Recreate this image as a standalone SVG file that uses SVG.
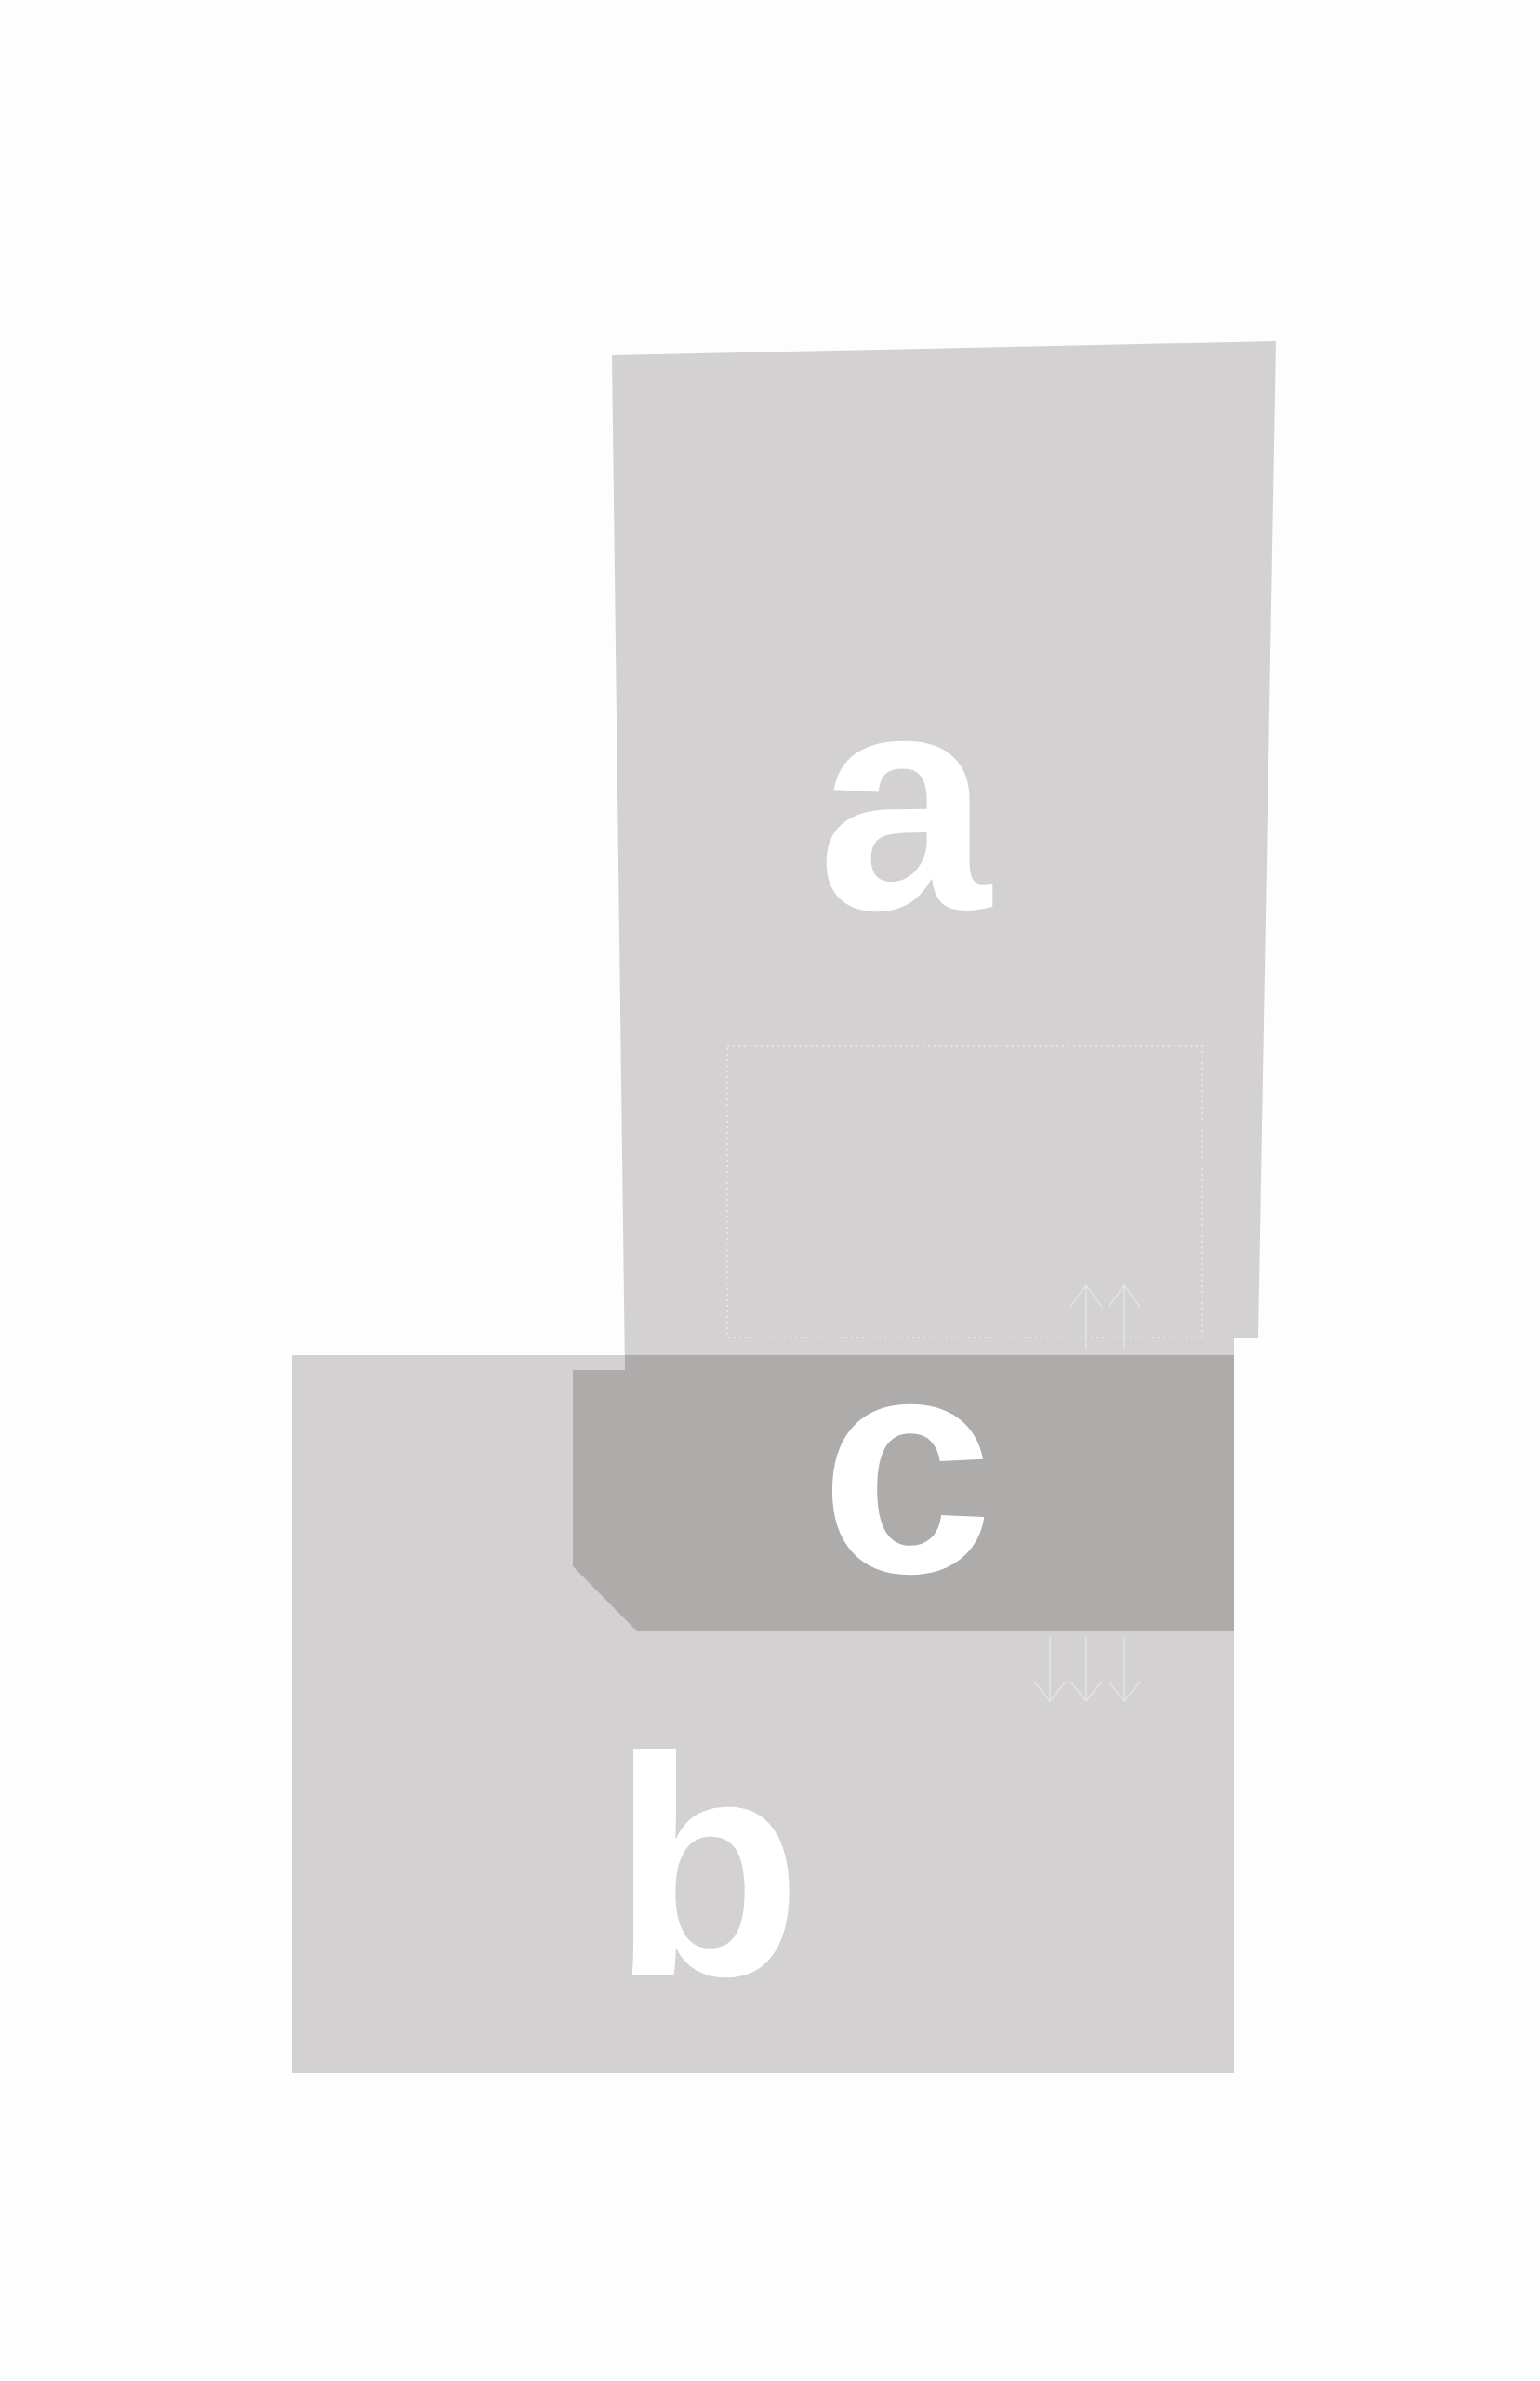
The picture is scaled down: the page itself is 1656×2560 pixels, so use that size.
<svg xmlns="http://www.w3.org/2000/svg" width="1656" height="2560" viewBox="0 0 1656 2560">
<style>
.light{fill:#d3d1d2}
.dark{fill:#aeabab}
.lbl{font-family:"Liberation Sans",Arial,sans-serif;font-weight:bold;font-size:335px;fill:#ffffff;text-anchor:middle}
.dot{fill:none;stroke:#e4e3e3;stroke-width:2;stroke-dasharray:2 4}
.arr{fill:none;stroke:#e4e3e3;stroke-width:1.6}
</style>
<rect width="1656" height="2560" fill="#fdfdfd"/>
<g id="node-b">
<rect class="light" x="314" y="1457" width="1013" height="772"/>
<text class="lbl" x="760" y="2123">b</text>
</g>
<g id="node-a">
<polygon class="light" points="658,382 1372,367 1353,1439 1327,1439 1327,1473 672,1473"/>
<rect class="dot" x="782" y="1125" width="511" height="313"/>
<text class="lbl" x="972" y="977">a</text>
</g>
<g id="node-c">
<polygon class="dark" points="616,1473 672,1473 672,1457 1327,1457 1327,1754 685,1754 616,1684"/>
<text class="lbl" x="975" y="1690">c</text>
</g>
<g id="connectors">
<path class="arr" d="M1168,1450 V1382 M1151,1405 L1168,1382 L1185,1405"/>
<path class="arr" d="M1209,1450 V1382 M1192,1405 L1209,1382 L1226,1405"/>
<path class="arr" d="M1129,1760 V1829 M1112,1808 L1129,1829 L1146,1808"/>
<path class="arr" d="M1168,1760 V1829 M1151,1808 L1168,1829 L1185,1808"/>
<path class="arr" d="M1209,1760 V1829 M1192,1808 L1209,1829 L1226,1808"/>
</g>
</svg>
